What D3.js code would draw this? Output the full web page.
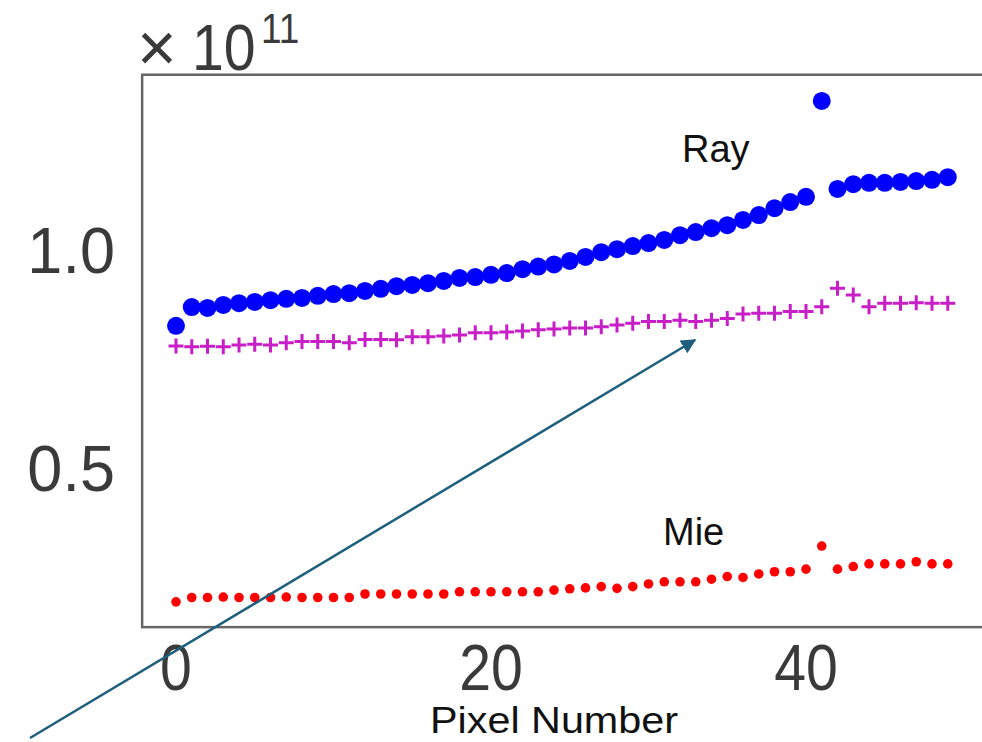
<!DOCTYPE html>
<meta charset="utf-8">
<head>
  <meta charset="utf-8">
  <title>Ray / Mie by pixel</title>
</head>
<style>
body { margin: 0; background: #fff; }
svg { display: block; }
.tick-label { font-family: 'Liberation Sans', Arial, sans-serif; fill: #3a3a3a; }
.note { font-family: 'Liberation Sans', Arial, sans-serif; fill: #111; }
</style>
<body>
<div class="chart"></div>

<script src="https://d3js.org/d3.v7.min.js"></script>
<script>

// values are in units of 1e11, one per pixel (0..49)
var pixels = d3.range(0, 50)

var rayValues = [0.826, 0.869, 0.867, 0.874, 0.878, 0.881, 0.885, 0.888, 0.890, 0.895,
                 0.899, 0.901, 0.906, 0.911, 0.917, 0.920, 0.924, 0.929, 0.936, 0.938,
                 0.943, 0.947, 0.956, 0.962, 0.967, 0.975, 0.984, 0.995, 1.002, 1.009,
                 1.016, 1.023, 1.034, 1.041, 1.050, 1.057, 1.069, 1.080, 1.096, 1.110,
                 1.122, 1.342, 1.140, 1.151, 1.154, 1.154, 1.156, 1.158, 1.161, 1.167]

var plusValues = [0.780, 0.778, 0.779, 0.778, 0.782, 0.784, 0.782, 0.787, 0.790, 0.790,
                  0.790, 0.787, 0.795, 0.795, 0.794, 0.801, 0.801, 0.803, 0.805, 0.810,
                  0.810, 0.812, 0.814, 0.817, 0.819, 0.821, 0.821, 0.824, 0.828, 0.832,
                  0.836, 0.836, 0.839, 0.836, 0.839, 0.843, 0.853, 0.855, 0.855, 0.859,
                  0.859, 0.870, 0.912, 0.897, 0.870, 0.878, 0.878, 0.879, 0.878, 0.878]

var mieValues = [0.193, 0.203, 0.203, 0.204, 0.203, 0.203, 0.203, 0.204, 0.203, 0.203,
                 0.203, 0.203, 0.211, 0.211, 0.211, 0.211, 0.211, 0.211, 0.216, 0.216,
                 0.216, 0.216, 0.216, 0.216, 0.220, 0.223, 0.225, 0.228, 0.224, 0.228,
                 0.234, 0.239, 0.239, 0.239, 0.245, 0.251, 0.249, 0.257, 0.262, 0.262,
                 0.268, 0.321, 0.268, 0.274, 0.280, 0.280, 0.280, 0.285, 0.280, 0.280]

var xTicks = [0, 20, 40]
var yTicks = [0.5, 1.0]
var yTickLabels = ['0.5', '1.0']
var xLimits = [-2.15, 53]
var yLimits = [0.135, 1.402]

var width = 982
var height = 742

var svg = d3.select('.chart')
    .append('svg')
    .attr('width', width)
    .attr('height', height)

var x = d3.scaleLinear().domain([0, 40]).range([176, 806])
var y = d3.scaleLinear().domain([0.5, 1.0]).range([468, 250])

// axes frame (right side runs off the picture)
svg.append('rect')
    .attr('x', x(xLimits[0]))
    .attr('y', y(yLimits[1]))
    .attr('width', x(xLimits[1]) - x(xLimits[0]))
    .attr('height', y(yLimits[0]) - y(yLimits[1]))
    .attr('fill', 'none')
    .attr('stroke', '#666')
    .attr('stroke-width', 2.5)

// tick labels, narrow looking digits
svg.selectAll('.xlab')
    .data(xTicks)
    .enter().append('text')
    .attr('class', 'tick-label')
    .attr('text-anchor', 'middle')
    .attr('font-size', 65)
    .attr('transform', function (d) { return 'translate(' + x(d) + ',690) scale(0.88,1)' })
    .text(function (d) { return d })

svg.selectAll('.ylab')
    .data(yTicks)
    .enter().append('text')
    .attr('class', 'tick-label')
    .attr('text-anchor', 'end')
    .attr('font-size', 65)
    .attr('transform', function (d) { return 'translate(115,' + (y(d) + 23) + ') scale(0.97,1)' })
    .text(function (d, i) { return yTickLabels[i] })

// offset label: big multiply sign, then 10 with superscript 11
svg.append('text')
    .attr('class', 'tick-label')
    .attr('font-size', 68)
    .attr('x', 137).attr('y', 71)
    .text('\u00d7')

var expo = svg.append('text')
    .attr('class', 'tick-label')
    .attr('font-size', 65)
    .attr('transform', 'translate(192,70) scale(0.88,1)')
expo.append('tspan').text('10')
expo.append('tspan').attr('font-size', 42).attr('dx', 6).attr('dy', -27).text('11')

// Ray (blue dots)
svg.selectAll('.ray')
    .data(pixels)
    .enter().append('circle')
    .attr('cx', function (d) { return x(d) })
    .attr('cy', function (d) { return y(rayValues[d]) })
    .attr('r', 9)
    .attr('fill', '#0000ff')

// magenta plus markers
var plusSize = 7.5
svg.selectAll('.plus')
    .data(pixels)
    .enter().append('path')
    .attr('d', function (d) {
        var cx = x(d), cy = y(plusValues[d])
        return 'M' + (cx - plusSize) + ',' + cy + 'H' + (cx + plusSize) +
               'M' + cx + ',' + (cy - plusSize) + 'V' + (cy + plusSize)
    })
    .attr('stroke', '#c81ec8')
    .attr('stroke-width', 3)
    .attr('fill', 'none')

// Mie (red dots)
svg.selectAll('.mie')
    .data(pixels)
    .enter().append('circle')
    .attr('cx', function (d) { return x(d) })
    .attr('cy', function (d) { return y(mieValues[d]) })
    .attr('r', 4.8)
    .attr('fill', '#ff0000')

svg.append('text').attr('class', 'note')
    .attr('x', 682).attr('y', 162)
    .attr('font-size', 38)
    .text('Ray')

svg.append('text').attr('class', 'note')
    .attr('x', 663).attr('y', 545)
    .attr('font-size', 38)
    .text('Mie')

svg.append('text').attr('class', 'note')
    .attr('x', 430).attr('y', 733)
    .attr('font-size', 37)
    .attr('textLength', 248)
    .attr('lengthAdjust', 'spacingAndGlyphs')
    .text('Pixel Number')

// arrow
svg.append('defs').append('marker')
    .attr('id', 'head')
    .attr('viewBox', '0 0 10 10')
    .attr('refX', 9).attr('refY', 5)
    .attr('markerWidth', 6).attr('markerHeight', 6)
    .attr('markerUnits', 'strokeWidth')
    .attr('orient', 'auto')
    .append('path')
    .attr('d', 'M0,0L10,5L0,10z')
    .attr('fill', '#1d5f7d')

svg.append('line')
    .attr('x1', 30).attr('y1', 738)
    .attr('x2', 695).attr('y2', 340)
    .attr('stroke', '#1d5f7d')
    .attr('stroke-width', 2.5)
    .attr('marker-end', 'url(#head)')

</script>
</body>
